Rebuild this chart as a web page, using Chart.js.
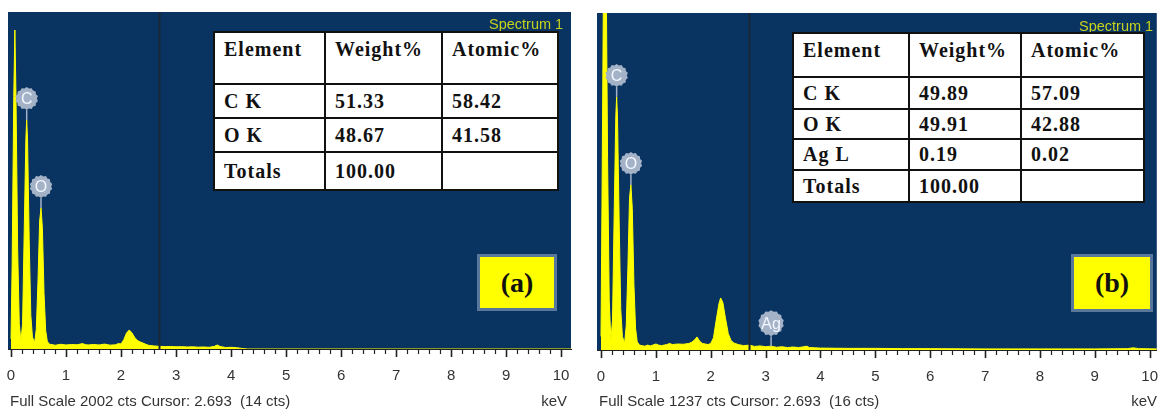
<!DOCTYPE html>
<html>
<head>
<meta charset="utf-8">
<script src="https://cdn.jsdelivr.net/npm/chart.js@4.4.0/dist/chart.umd.min.js"></script>
<style>
  body { margin: 0; background: #fff; width: 1158px; height: 413px; overflow: hidden; position: relative;
         font-family: "Liberation Sans", Arial, sans-serif; }
  canvas { position: absolute; top: 0; }
  #chartA { left: 0; }
  #chartB { left: 590px; }
  .spec { position: absolute; color: #c6d21c; font-size: 14.5px; line-height: 16px; white-space: nowrap; }
  table.res { position: absolute; border-collapse: collapse; table-layout: fixed; background: #fff;
              font-family: "Liberation Serif", "Times New Roman", serif; font-weight: bold; font-size: 20px;
              letter-spacing: 1px; color: #111; }
  table.res td { border: 2px solid #111; padding: 0 0 0 9px; white-space: nowrap; vertical-align: middle; }
  table.res tr.head td { vertical-align: top; padding-top: 5px; }
  .tag { position: absolute; box-sizing: border-box; border: 3px solid #58779b; background: #ffff00;
         font: bold 28px "Liberation Serif", "Times New Roman", serif; text-align: center; color: #111; }
  .foot { position: absolute; top: 392px; font-size: 15px; line-height: 17px; color: #333; white-space: pre; }
</style>
</head>
<body>
<canvas id="chartA" width="580" height="413"></canvas>
<canvas id="chartB" width="568" height="413"></canvas>
<div class="spec" style="left:489px; top:16px;">Spectrum 1</div>
<div class="spec" style="left:1079px; top:18px;">Spectrum 1</div>
<table class="res" id="tableA" style="left:213px; top:31px;"></table>
<table class="res" id="tableB" style="left:792px; top:32px;"></table>
<div class="tag" style="left:477px; top:254px; width:80px; height:57px; line-height:51px;">(a)</div>
<div class="tag" style="left:1071px; top:254px; width:82px; height:58px; line-height:52px;">(b)</div>
<div class="foot" id="footA" style="left:10px;"></div>
<div class="foot" style="right:591px;">keV</div>
<div class="foot" id="footB" style="left:599px;"></div>
<div class="foot" style="right:1px;">keV</div>

<script>
// spectrum (a): energy in keV, counts
const energyA = [0, 0.02, 0.05, 0.07, 0.09, 0.12, 0.15, 0.18, 0.21, 0.24, 0.27, 0.285, 0.30, 0.33, 0.36, 0.39,
  0.43, 0.46, 0.49, 0.52, 0.545, 0.57, 0.60, 0.63, 0.66, 0.70, 0.75, 0.8, 0.9, 1.0, 1.1, 1.2, 1.3, 1.35, 1.4,
  1.5, 1.6, 1.7, 1.8, 1.9, 1.95, 2.0, 2.05, 2.1, 2.15, 2.2, 2.25, 2.3, 2.35, 2.4, 2.45, 2.5, 2.6, 2.7, 2.8,
  2.9, 3.0, 3.1, 3.2, 3.3, 3.4, 3.5, 3.6, 3.7, 3.75, 3.8, 3.9, 4.0, 4.1, 4.2, 4.3, 10.2];
const countsA = [60, 500, 1500, 1895, 1500, 600, 150, 45, 150, 700, 1250, 1360, 1250, 650, 200, 70,
  40, 120, 400, 760, 838, 720, 330, 110, 45, 28, 26, 22, 28, 24, 27, 25, 32, 26, 24,
  27, 24, 29, 23, 25, 32, 30, 55, 95, 113, 95, 68, 50, 42, 35, 28, 22, 18, 16, 14,
  15, 13, 14, 12, 13, 11, 12, 10, 16, 24, 15, 9, 10, 8, 3, 0, 0];

// spectrum (b)
const energyB = [0, 0.02, 0.05, 0.07, 0.09, 0.12, 0.15, 0.18, 0.21, 0.24, 0.27, 0.285, 0.30, 0.33, 0.36, 0.39,
  0.43, 0.46, 0.49, 0.52, 0.545, 0.57, 0.60, 0.63, 0.66, 0.70, 0.75, 0.8, 0.85, 0.9, 1.0, 1.05, 1.1, 1.2, 1.25,
  1.3, 1.4, 1.5, 1.6, 1.65, 1.7, 1.75, 1.8, 1.85, 1.9, 1.95, 2.0, 2.05, 2.1, 2.15, 2.18, 2.22, 2.27, 2.32,
  2.37, 2.42, 2.5, 2.6, 2.7, 2.8, 2.9, 3.0, 3.1, 3.2, 3.3, 3.4, 3.5, 3.6, 3.7, 3.75, 3.8, 3.9, 4.0, 4.5,
  5.0, 5.5, 6.0, 7.0, 8.0, 9.0, 9.6, 9.7, 9.8, 10.13];
const countsB = [50, 600, 1500, 1700, 1500, 700, 180, 35, 110, 500, 860, 929, 860, 480, 150, 50,
  25, 90, 300, 560, 606, 520, 240, 80, 30, 18, 16, 14, 18, 15, 22, 18, 16, 20, 24,
  20, 22, 21, 24, 28, 36, 48, 32, 24, 22, 20, 24, 45, 110, 170, 191, 175, 115, 60,
  35, 26, 20, 16, 18, 13, 15, 12, 14, 10, 12, 9, 11, 9, 12, 14, 9, 8, 7, 6,
  6, 5, 5, 4, 4, 4, 5, 8, 5, 4];

const tickLabels = ['0', '1', '2', '3', '4', '5', '6', '7', '8', '9', '10'];
const fullScaleA = 2002;
const fullScaleB = 1237;
const cursorKeV = 2.693;
const cursorCtsA = 14;
const cursorCtsB = 16;

const markerNamesA = ['C', 'O'];
const markerKeVA = [0.285, 0.545];
const markerNamesB = ['C', 'O', 'Ag'];
const markerKeVB = [0.285, 0.545, 3.1];

// quantification tables
const tableHead = ['Element', 'Weight%', 'Atomic%'];
const elementsA = ['C K', 'O K', 'Totals'];
const weightA = ['51.33', '48.67', '100.00'];
const atomicA = ['58.42', '41.58', ''];
const elementsB = ['C K', 'O K', 'Ag L', 'Totals'];
const weightB = ['49.89', '49.91', '0.19', '100.00'];
const atomicB = ['57.09', '42.88', '0.02', ''];

const PLOT_BG = '#093462';

function buildTable(id, colW, rowH, elements, weight, atomic) {
    const t = document.getElementById(id);
    let html = '<colgroup>' + colW.map(w => `<col style="width:${w}px">`).join('') + '</colgroup>';
    html += `<tr class="head" style="height:${rowH[0]}px">` + tableHead.map(h => `<td>${h}</td>`).join('') + '</tr>';
    elements.forEach((el, i) => {
        html += `<tr style="height:${rowH[i + 1]}px"><td>${el}</td><td>${weight[i]}</td><td>${atomic[i]}</td></tr>`;
    });
    t.innerHTML = html;
}

buildTable('tableA', [111, 117, 116], [52, 34, 34, 38], elementsA, weightA, atomicA);
buildTable('tableB', [116, 112, 123], [44, 32, 30, 31, 32], elementsB, weightB, atomicB);

document.getElementById('footA').textContent = `Full Scale ${fullScaleA} cts Cursor: ${cursorKeV}  (${cursorCtsA} cts)`;
document.getElementById('footB').textContent = `Full Scale ${fullScaleB} cts Cursor: ${cursorKeV}  (${cursorCtsB} cts)`;

// blue plot background
const bgPlugin = {
    id: 'plotBg',
    beforeDraw(chart) {
        const { ctx, chartArea: a } = chart;
        ctx.save();
        ctx.fillStyle = PLOT_BG;
        ctx.fillRect(a.left, a.top, a.right - a.left, a.bottom - a.top);
        ctx.restore();
    }
};

// cursor line, element markers, axis ticks
const overlayPlugin = {
    id: 'edsOverlay',
    afterDatasetsDraw(chart, args, opts) {
        const { ctx, chartArea: a } = chart;
        const xs = chart.scales.x, ys = chart.scales.y;
        ctx.save();
        // cursor
        const cx = Math.round(xs.getPixelForValue(cursorKeV)) + 0.5;
        ctx.strokeStyle = '#1b2636';
        ctx.lineWidth = 2;
        ctx.beginPath();
        ctx.moveTo(cx, a.top);
        ctx.lineTo(cx, a.bottom);
        ctx.stroke();

        // element markers
        const energy = opts.energy, counts = opts.counts;
        opts.names.forEach((name, i) => {
            const e = opts.keV[i];
            let best = 0;
            energy.forEach((v, j) => { if (Math.abs(v - e) < Math.abs(energy[best] - e)) best = j; });
            const px = xs.getPixelForValue(e);
            const py = ys.getPixelForValue(counts[best]);
            const R = name.length > 1 ? 13 : 11.5;
            const cy = py - 10 - R;
            ctx.strokeStyle = '#a3b2c6';
            ctx.lineWidth = 1.5;
            ctx.beginPath();
            ctx.moveTo(px, cy + R);
            ctx.lineTo(px, py);
            ctx.stroke();
            // little gear shaped badge
            ctx.fillStyle = '#a3b2c6';
            ctx.beginPath();
            const n = 28;
            for (let k = 0; k <= n; k++) {
                const ang = (k / n) * Math.PI * 2;
                const r = k % 2 ? R : R - 1.3;
                const x = px + r * Math.cos(ang), y = cy + r * Math.sin(ang);
                if (k === 0) ctx.moveTo(x, y); else ctx.lineTo(x, y);
            }
            ctx.fill();
            ctx.fillStyle = '#f2f6ff';
            ctx.font = '16px "Liberation Sans", Arial, sans-serif';
            ctx.textAlign = 'center';
            ctx.textBaseline = 'middle';
            ctx.fillText(name, px, cy + 1);
        });
        ctx.restore();
    },
    afterDraw(chart) {
        const { ctx, chartArea: a } = chart;
        const xs = chart.scales.x;
        ctx.save();
        ctx.strokeStyle = '#222';
        for (let k = 0; k <= 50; k++) {
            const x = Math.round(xs.getPixelForValue(k / 5)) + 0.5;
            const major = k % 5 === 0;
            ctx.lineWidth = major ? 1.6 : 1.2;
            ctx.beginPath();
            ctx.moveTo(x, a.bottom);
            ctx.lineTo(x, a.bottom + (major ? 8 : 5));
            ctx.stroke();
        }
        ctx.restore();
    }
};

function makeChart(id, energy, counts, fullScale, xMin, xMax, pad, axisH, names, keV) {
    return new Chart(document.getElementById(id), {
        type: 'line',
        data: {
            datasets: [{
                data: energy.map((e, i) => ({ x: e, y: counts[i] })),
                borderColor: '#ffff00',
                backgroundColor: '#ffff00',
                borderWidth: 1,
                fill: 'origin',
                pointRadius: 0,
                tension: 0,
            }]
        },
        options: {
            responsive: false,
            animation: false,
            layout: { padding: pad },
            plugins: {
                legend: { display: false },
                tooltip: { enabled: false },
                edsOverlay: { energy, counts, names, keV },
            },
            scales: {
                x: {
                    type: 'linear',
                    min: xMin,
                    max: xMax,
                    afterBuildTicks: s => { s.ticks = tickLabels.map(t => ({ value: Number(t) })); },
                    afterFit: s => { s.height = axisH; },
                    grid: { display: true, drawOnChartArea: false, drawTicks: true, tickLength: 18, tickColor: 'rgba(0,0,0,0)' },
                    border: { display: true, color: '#222', width: 1 },
                    ticks: {
                        autoSkip: false,
                        maxRotation: 0,
                        padding: 0,
                        color: '#333',
                        font: { family: '"Liberation Sans", Arial, sans-serif', size: 15 },
                        callback: v => String(v),
                    }
                },
                y: { display: false, min: 0, max: fullScale }
            }
        },
        plugins: [bgPlugin, overlayPlugin]
    });
}

makeChart('chartA', energyA, countsA, fullScaleA, -0.055, 10.18,
    { left: 8, right: 9, top: 12, bottom: 0 }, 64, markerNamesA, markerKeVA);
makeChart('chartB', energyB, countsB, fullScaleB, -0.073, 10.13,
    { left: 7, right: 0, top: 13, bottom: 0 }, 63, markerNamesB, markerKeVB);
</script>
</body>
</html>
